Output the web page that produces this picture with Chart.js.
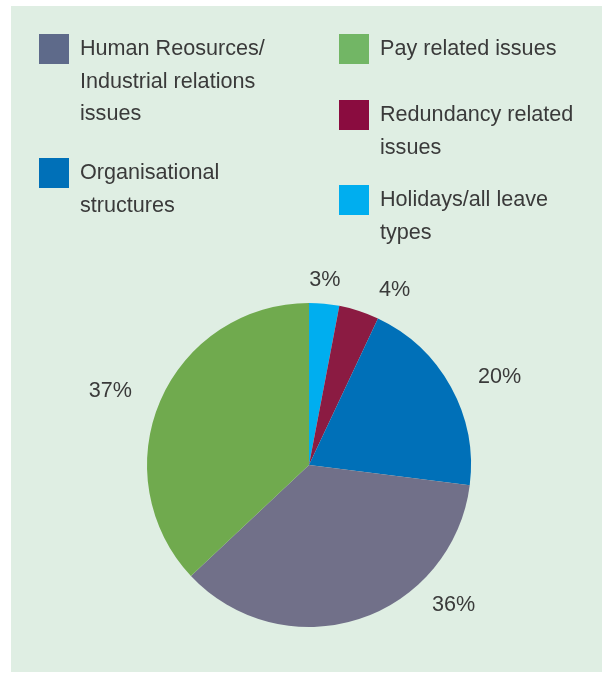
<!DOCTYPE html>
<html>
<head>
<meta charset="utf-8">
<script src="https://cdn.jsdelivr.net/npm/chart.js@4.4.1/dist/chart.umd.min.js"></script>
<style>
  html, body { margin: 0; padding: 0; background: #fff; }
  #page { position: relative; width: 606px; height: 673px; overflow: hidden; }
  #panel { position: absolute; left: 11px; top: 6px; width: 591px; height: 666px; background: #dfeee3; }
  #chart-wrap { position: absolute; left: 0; top: 0; width: 606px; height: 673px; }
  .legend-item { position: absolute; font-family: "Liberation Sans", Arial, sans-serif; font-size: 21.6px; line-height: 32.5px; color: #3a3a3a; }
  .legend-item .swatch { position: absolute; left: 0; top: 2px; width: 30px; height: 30px; }
  .legend-item .text { position: absolute; left: 41px; top: 0; white-space: nowrap; }
</style>
</head>
<body>
<div id="page">
  <div id="panel"></div>
  <div id="chart-wrap"><canvas id="pie-chart" width="606" height="673"></canvas></div>
  <div id="legend"></div>
</div>
<script>
// Slices in drawing order, clockwise from 12 o'clock
const sliceLabels = [
  "Holidays/all leave types",
  "Redundancy related issues",
  "Organisational structures",
  "Human Reosurces/ Industrial relations issues",
  "Pay related issues"
];
const sliceValues = [3, 4, 20, 36, 37]; // percent
const sliceColors = ["#00aeef", "#8b1b42", "#0070b8", "#717089", "#70aa4e"];
const swatchColors = ["#00aeef", "#8a0c3f", "#0070b8", "#5e6a8a", "#72b665"];

// Legend text as it wraps in the original
const legendLines = [
  ["Holidays/all leave", "types"],
  ["Redundancy related", "issues"],
  ["Organisational", "structures"],
  ["Human Reosurces/", "Industrial relations", "issues"],
  ["Pay related issues"]
];

// legend placement (left, top) per slice
const legendPos = [
  [339, 183], [339, 98], [39, 156], [39, 32], [339, 32]
];

const legendEl = document.getElementById("legend");
sliceLabels.forEach((lbl, i) => {
  const item = document.createElement("div");
  item.className = "legend-item";
  item.style.left = legendPos[i][0] + "px";
  item.style.top = legendPos[i][1] + "px";
  item.innerHTML = '<div class="swatch" style="background:' + swatchColors[i] + '"></div>' +
    '<div class="text">' + legendLines[i].join("<br>") + '</div>';
  legendEl.appendChild(item);
});

// percentage labels outside the pie
const outsideLabels = {
  id: "outsideLabels",
  afterDatasetsDraw(chart, args, opts) {
    const ctx = chart.ctx;
    const meta = chart.getDatasetMeta(0);
    ctx.save();
    ctx.font = "21.6px 'Liberation Sans', Arial, sans-serif";
    ctx.fillStyle = "#3a3a3a";
    ctx.textAlign = "center";
    ctx.textBaseline = "middle";
    meta.data.forEach((arc, i) => {
      const p = arc.getProps(["x", "y", "startAngle", "endAngle", "outerRadius"], true);
      const a = (p.startAngle + p.endAngle) / 2 + opts.nudge[i] * Math.PI / 180;
      const r = p.outerRadius + opts.gap[i];
      ctx.fillText(sliceValues[i] + "%", p.x + Math.cos(a) * r, p.y + Math.sin(a) * r);
    });
    ctx.restore();
  }
};

const pieChart = new Chart(document.getElementById("pie-chart"), {
  type: "pie",
  data: {
    labels: sliceLabels,
    datasets: [{
      data: sliceValues,
      backgroundColor: sliceColors,
      borderWidth: 0
    }]
  },
  options: {
    responsive: false,
    animation: false,
    layout: { padding: { left: 147, right: 135, top: 303, bottom: 46 } },
    plugins: {
      legend: { display: false },
      tooltip: { enabled: false },
      outsideLabels: {
        nudge: [-0.5, 8, 4, -28, -3],
        gap: [24, 33, 48, 39, 50]
      }
    }
  },
  plugins: [outsideLabels]
});
</script>
</body>
</html>
